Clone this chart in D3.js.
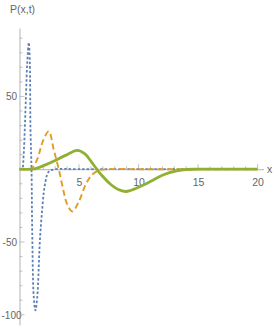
<!DOCTYPE html>
<html><head><meta charset="utf-8">
<script src="https://cdn.jsdelivr.net/npm/d3@7"></script>
<style>body{margin:0;background:#fff}svg{display:block}</style>
</head><body><svg id="c" width="273" height="327"></svg>
<script>
// Data
const blueX  = [0, 0.15, 0.24, 0.35, 0.45, 0.55, 0.65, 0.78, 0.87, 0.92, 1.01, 1.07, 1.2, 1.34, 1.49, 1.76, 2.18, 2.46, 3.0, 5, 10, 15, 20];
const blueY  = [0, 0, 0.5, 10, 29, 52, 73, 87, 73, 29, -0.4, -43, -88, -97, -88, -43, -8.5, -1.6, 0, 0, 0, 0, 0];
const orangeX = [0, 0.6, 1.0, 1.5, 1.76, 2.0, 2.46, 2.88, 3.3, 3.7, 4.0, 4.43, 5.0, 5.55, 6.1, 6.7, 7.5, 10, 15, 20];
const orangeY = [0, 0, 0.5, 7, 14, 20, 26, 13.3, 0, -15, -24, -29, -22, -10.7, -3.8, -0.8, 0, 0, 0, 0];
const greenX = [0, 1.0, 1.5, 2.18, 3.0, 3.87, 4.85, 5.5, 6.0, 6.5, 7.0, 7.6, 8.3, 8.9, 9.33, 10.45, 11.2, 12.1, 13.2, 14, 15, 20];
const greenY = [0, 0, 0.8, 3, 6, 9.5, 13, 10.5, 5.5, 0, -5, -10, -14, -15.3, -14.6, -10.7, -7.5, -3.8, -1.2, -0.2, 0, 0];
const xMajor = [5, 10, 15, 20];
const yMajor = [-100, -50, 50];
const xLabel = "x";
const yLabel = "P(x,t)";

const svg = d3.select("#c");
const x = d3.scaleLinear().domain([0, 20.5]).range([19.5, 263.5]);
const y = d3.scaleLinear().domain([-107, 97]).range([325, 28]);
const axisCol = "#b3b3b3", txtCol = "#666";
const font = "'Liberation Sans Narrow','Liberation Sans',Arial,sans-serif";

const xAxis = d3.axisBottom(x).tickValues(xMajor).tickSizeInner(0).tickSizeOuter(0).tickPadding(9).tickFormat(d3.format("d"));
const gx = svg.append("g").attr("transform", `translate(0,${y(0)})`).call(xAxis);
gx.select(".domain").attr("stroke", axisCol);
gx.selectAll("text").attr("fill", txtCol).attr("font-size", 10.5).attr("font-family", font);
const yAxis = d3.axisLeft(y).tickValues(yMajor).tickSizeInner(0).tickSizeOuter(0).tickPadding(2.5).tickFormat(d => d < 0 ? "-" + Math.abs(d) : d);
const gy = svg.append("g").attr("transform", `translate(${x(0)},0)`).call(yAxis);
gy.select(".domain").attr("stroke", axisCol);
gy.selectAll("text").attr("fill", txtCol).attr("font-size", 10).attr("font-family", font)
  .attr("text-anchor", "start")
  .each(function() {
    const w = this.getComputedTextLength();
    const left = Math.max(1.5 - x(0), -2.5 - w);
    d3.select(this).attr("x", left);
  });

const xMinor = d3.range(1, 21);
svg.append("g").selectAll("line").data(xMinor).join("line")
  .attr("x1", d => x(d)).attr("x2", d => x(d))
  .attr("y1", y(0)).attr("y2", d => y(0) - (d % 5 === 0 ? 5 : 3))
  .attr("stroke", axisCol).attr("stroke-width", 0.8);
const yMinor = d3.range(-100, 91, 10).filter(d => d !== 0);
svg.append("g").selectAll("line").data(yMinor).join("line")
  .attr("y1", d => y(d)).attr("y2", d => y(d))
  .attr("x1", x(0)).attr("x2", d => x(0) + (d % 50 === 0 ? 5 : 3))
  .attr("stroke", axisCol).attr("stroke-width", 0.8);

svg.append("text").attr("x", 10).attr("y", 13).text(yLabel)
  .attr("fill", txtCol).attr("font-size", 10.5).attr("font-family", font);
svg.append("text").attr("x", 267).attr("y", 173).text(xLabel)
  .attr("fill", txtCol).attr("font-size", 10.5).attr("font-family", font);

const line = d3.line().x(d => x(d[0])).y(d => y(d[1])).curve(d3.curveCatmullRom.alpha(0.5));
const series = [
  {xs: blueX, ys: blueY, color: "#5e81b5", w: 1.8, dash: "2.5,2"},
  {xs: orangeX, ys: orangeY, color: "#e19c24", w: 1.9, dash: "6,3.5"},
  {xs: greenX, ys: greenY, color: "#8fb032", w: 2.8, dash: null}
];
series.forEach(s => {
  svg.append("path").datum(d3.zip(s.xs, s.ys)).attr("d", line)
    .attr("fill", "none").attr("stroke", s.color).attr("stroke-width", s.w)
    .attr("stroke-dasharray", s.dash).attr("stroke-linejoin", "round");
});
</script></body></html>
